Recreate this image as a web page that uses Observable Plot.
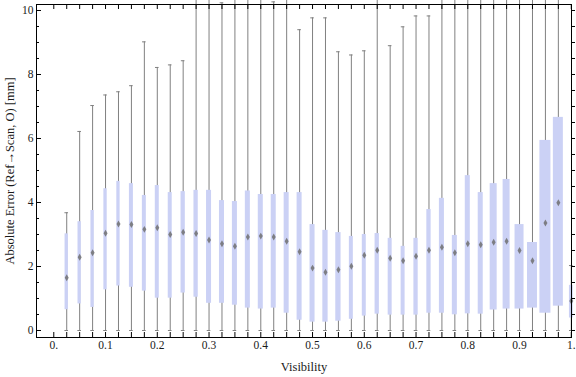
<!DOCTYPE html>
<html>
<head>
<meta charset="utf-8">
<script src="https://cdn.jsdelivr.net/npm/d3@7"></script>
<script src="https://cdn.jsdelivr.net/npm/@observablehq/plot@0.6"></script>
<style>
  html, body { margin: 0; padding: 0; background: #ffffff; }
  #chart svg { display: block; }
</style>
</head>
<body>
<div id="chart"></div>
<script>
// ---- data ----
const visibility = [0.025, 0.05, 0.075, 0.1, 0.125, 0.15, 0.175, 0.2, 0.225, 0.25,
                    0.275, 0.3, 0.325, 0.35, 0.375, 0.4, 0.425, 0.45, 0.475, 0.5,
                    0.525, 0.55, 0.575, 0.6, 0.625, 0.65, 0.675, 0.7, 0.725, 0.75,
                    0.775, 0.8, 0.825, 0.85, 0.875, 0.9, 0.925, 0.95, 0.975, 1.0];
const whiskerLow = [0, 0, 0, 0, 0, 0, 0, 0, 0, 0,
                    0, 0, 0, 0, 0, 0, 0, 0, 0, 0,
                    0, 0, 0, 0, 0, 0, 0, 0, 0, 0,
                    0, 0, 0, 0, 0, 0, 0, 0, 0, 0];
const quartile1 = [0.65, 0.83, 0.72, 1.27, 1.39, 1.35, 1.23, 1.01, 1.01, 1.17,
                   1.04, 0.85, 0.85, 0.79, 0.70, 0.67, 0.70, 0.54, 0.32, 0.26,
                   0.26, 0.29, 0.35, 0.45, 0.51, 0.48, 0.48, 0.48, 0.54, 0.54,
                   0.49, 0.52, 0.51, 0.64, 0.67, 0.67, 0.70, 0.54, 0.76, 0.39];
const median = [1.65, 2.29, 2.43, 3.04, 3.33, 3.31, 3.16, 3.21, 3.00, 3.07,
                3.03, 2.83, 2.71, 2.63, 2.92, 2.95, 2.92, 2.79, 2.46, 1.95,
                1.82, 1.90, 2.01, 2.35, 2.51, 2.26, 2.18, 2.32, 2.51, 2.60,
                2.43, 2.71, 2.68, 2.76, 2.79, 2.50, 2.18, 3.36, 3.99, 0.92];
const quartile3 = [3.02, 3.40, 3.75, 4.43, 4.66, 4.59, 4.22, 4.53, 4.31, 4.34,
                   4.38, 4.38, 4.06, 4.03, 4.36, 4.25, 4.25, 4.31, 4.31, 3.31,
                   3.13, 3.06, 2.94, 3.00, 3.03, 2.88, 2.63, 2.88, 3.78, 4.13,
                   2.97, 4.84, 4.31, 4.59, 4.72, 3.31, 2.75, 5.94, 6.66, 1.41];
// values above the plot range (whisker leaves the frame) estimated as 11
const whiskerHigh = [3.68, 6.22, 7.03, 7.36, 7.46, 7.65, 9.02, 8.22, 8.30, 8.43,
                     11, 11, 10.24, 11, 11, 11, 10.27, 11, 9.40, 9.77,
                     9.77, 8.71, 8.61, 8.74, 11, 8.90, 9.49, 9.83, 9.83, 11,
                     11, 11, 11, 11, 11, 11, 11, 11, 11, 2.03];
// box width in visibility units
const boxWidth = [0.0064, 0.0064, 0.0064, 0.0064, 0.0064, 0.0077, 0.0077, 0.0077, 0.0077, 0.0083,
                  0.0083, 0.0097, 0.0097, 0.0097, 0.0097, 0.0097, 0.0097, 0.0097, 0.0097, 0.0097,
                  0.0102, 0.0102, 0.0077, 0.0077, 0.0083, 0.0077, 0.0077, 0.0083, 0.0083, 0.0097,
                  0.0097, 0.0097, 0.0097, 0.0135, 0.0135, 0.0174, 0.0193, 0.0213, 0.0193, 0.0072];

const xTickValues = [0, 0.1, 0.2, 0.3, 0.4, 0.5, 0.6, 0.7, 0.8, 0.9, 1.0];
const xTickLabels = ["0.", "0.1", "0.2", "0.3", "0.4", "0.5", "0.6", "0.7", "0.8", "0.9", "1."];
const yTickValues = [0, 2, 4, 6, 8, 10];
const yTickLabels = ["0", "2", "4", "6", "8", "10"];
const xLabel = "Visibility";
const yLabel = "Absolute Error (Ref\u2192Scan, O) [mm]";

// ---- build ----
const rows = visibility.map((v, i) => ({
  v, lo: whiskerLow[i], q1: quartile1[i], med: median[i], q3: quartile3[i],
  hi: whiskerHigh[i], w: boxWidth[i]
}));
const xMinorTicks = d3.range(0, 41).map(i => +(i * 0.025).toFixed(3));
const yMinorTicks = d3.range(0, 21).map(i => i * 0.5);
const yMajorSet = new Set(yTickValues);

const W = 576, H = 377;
const mL = 36, mR = 5, mT = 4, mB = 40;
const fw = W - mL - mR, fh = H - mT - mB;
const capHalf = 0.0035;
const boxFill = "#cbd1f5";
const grey = "#808080";
const font = "'Liberation Serif', 'DejaVu Serif', serif";

const chart = Plot.plot({
  width: W, height: H,
  marginLeft: mL, marginRight: mR, marginTop: mT, marginBottom: mB,
  style: { fontFamily: font, fontSize: "11.5px", background: "#ffffff", color: "#1a1a1a" },
  x: { domain: [-0.0334, 1.0004], axis: null },
  y: { domain: [-0.219, 10.1875], axis: null },
  marks: [
    // whiskers
    Plot.ruleX(rows, { x: "v", y1: "lo", y2: "hi", stroke: grey, strokeWidth: 1 }),
    Plot.ruleY(rows, { y: "hi", x1: d => d.v - capHalf, x2: d => d.v + capHalf, stroke: grey, strokeWidth: 1 }),
    Plot.ruleY(rows, { y: "lo", x1: d => d.v - capHalf, x2: d => d.v + capHalf, stroke: grey, strokeWidth: 1 }),
    // boxes
    Plot.rect(rows, { x1: d => d.v - d.w / 2, x2: d => d.v + d.w / 2, y1: "q1", y2: "q3", fill: boxFill }),
    // medians
    Plot.dot(rows, { x: "v", y: "med", symbol: "diamond", r: 2.1, fill: "#707070", fillOpacity: 0.85, stroke: "none" }),
    // frame
    Plot.frame({ stroke: "black", strokeWidth: 1 }),
    // bottom ticks
    Plot.ruleX(xMinorTicks, { x: d => d, insetTop: fh - 5, stroke: "black" }),
    // top ticks
    Plot.ruleX(xMinorTicks, { x: d => d, insetBottom: fh - 5, stroke: "black" }),
    // left ticks
    Plot.ruleY(yMinorTicks, { y: d => d, insetRight: fw - 3, stroke: "black", filter: d => !yMajorSet.has(d) }),
    Plot.ruleY(yTickValues, { y: d => d, insetRight: fw - 5, stroke: "black" }),
    // right ticks (drawn outward as in the reference)
    Plot.ruleY(yMinorTicks, { y: d => d, insetLeft: fw, insetRight: -4, stroke: "black" }),
    // tick labels
    Plot.text(xTickValues, { x: d => d, text: (d, i) => xTickLabels[i], frameAnchor: "bottom", dy: 11.5, fill: "#1a1a1a" }),
    Plot.text(yTickValues, { y: d => d, text: (d, i) => yTickLabels[i], frameAnchor: "left", textAnchor: "end", dx: -3, fill: "#1a1a1a" }),
    // axis labels
    Plot.text([xLabel], { text: d => d, frameAnchor: "bottom", textAnchor: "middle", dy: 33, fontSize: 12.5, fill: "#1a1a1a" }),
    Plot.text([yLabel], { text: d => d, frameAnchor: "left", textAnchor: "middle", rotate: -90, dx: -27, fontSize: 12.5, fill: "#1a1a1a" })
  ]
});
document.getElementById("chart").appendChild(chart);
</script>
</body>
</html>
